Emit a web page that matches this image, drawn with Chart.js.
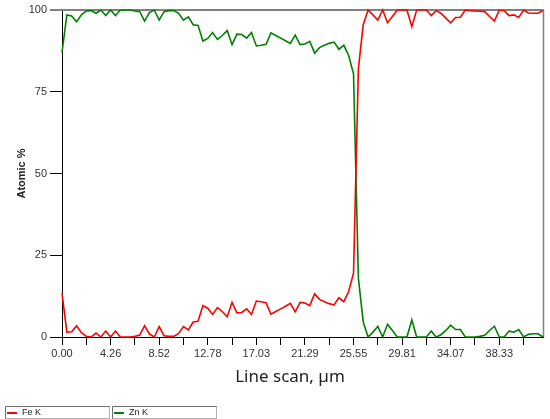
<!DOCTYPE html>
<html>
<head>
<meta charset="utf-8">
<script src="https://cdn.jsdelivr.net/npm/chart.js@4.4.0/dist/chart.umd.min.js"></script>
<style>
  html, body { margin: 0; padding: 0; background: #fff; }
</style>
</head>
<body>
<canvas id="myChart" width="550" height="419"></canvas>
<script>
// scan step (um) between two points of the line scan
const stepUm = 0.42587;

const xTickLabels = ['0.00', '4.26', '8.52', '12.78', '17.03', '21.29', '25.55', '29.81', '34.07', '38.33'];
const xTitle = 'Line scan, µm';

// Fe K, atomic %
const feK = [
  13.4, 1.5, 1.6, 3.4, 1.3, 0.2, 0, 1.2, 0, 1.8,
  0, 1.8, 0, 0, 0, 0.2, 0.6, 3.5, 0.9, 0,
  3.2, 0.4, 0.2, 0.2, 1.1, 3.2, 2.2, 4.6, 4.8, 9.6,
  8.8, 6.9, 9.0, 7.8, 6.2, 10.6, 7.4, 7.5, 8.6, 6.9,
  11.0, 10.8, 10.5, 7.0, 7.8, 8.6, 9.4, 10.3, 7.7, 10.6,
  10.4, 9.6, 13.2, 11.5, 10.8, 10.2, 9.8, 12.0, 10.8, 13.9,
  19.5, 82.0, 95.5, 100, 98.5, 96.9, 100, 96.1, 98.0, 100,
  100, 100, 94.9, 100, 100, 100, 98.3, 99.8, 99.0, 97.5,
  96.1, 97.7, 97.8, 100, 99.8, 99.7, 99.6, 99.5, 98.0, 96.6,
  100, 99.8, 98.3, 98.5, 97.7, 100, 99.1, 99.0, 99.0, 99.8
];

// Zn K, atomic %
const znK = [
  87.0, 98.5, 98.2, 96.4, 98.5, 99.7, 99.8, 99.0, 100, 98.3,
  100, 98.3, 100, 100, 100, 99.7, 99.5, 96.6, 99.2, 100,
  96.9, 99.5, 99.8, 99.8, 99.0, 96.9, 97.9, 95.5, 95.3, 90.5,
  91.3, 93.1, 91.0, 92.2, 93.7, 89.4, 92.6, 92.5, 91.4, 93.1,
  89.0, 89.2, 89.5, 93.0, 92.2, 91.4, 90.6, 89.8, 92.3, 89.4,
  89.6, 90.4, 86.8, 88.5, 89.2, 89.8, 90.2, 88.0, 89.2, 86.1,
  80.5, 18.0, 4.6, 0, 1.5, 3.2, 0, 3.9, 2.0, 0,
  0, 0, 5.2, 0, 0, 0, 1.8, 0, 0.7, 2.0,
  3.6, 2.3, 2.3, 0, 0, 0, 0.2, 0.5, 2.0, 3.3,
  0, 0, 1.8, 1.5, 2.3, 0, 0.8, 1.0, 1.0, 0
];

const toPoints = (arr) => arr.map((v, i) => ({ x: i * stepUm, y: v }));

// major ticks at the labels, minor ticks halfway
const xTickValues = [];
xTickLabels.forEach((l) => {
  const v = parseFloat(l);
  xTickValues.push(v, v + stepUm * 5);
});

// grey frame on top and right side
const frame = {
  id: 'frame',
  beforeDatasetsDraw(chart) {
    const { ctx, chartArea: a } = chart;
    ctx.save();
    ctx.strokeStyle = '#808080';
    ctx.lineWidth = 2;
    ctx.beginPath();
    ctx.moveTo(50, a.top);
    ctx.lineTo(a.right + 1, a.top);
    ctx.stroke();
    ctx.lineWidth = 1.5;
    ctx.beginPath();
    ctx.moveTo(a.right + 0.5, a.top);
    ctx.lineTo(a.right + 0.5, a.bottom);
    ctx.stroke();
    ctx.restore();
  }
};

// x title a bit left of the plot centre, like the original, plus boxed legend
const boxLegend = {
  id: 'boxLegend',
  afterDraw(chart) {
    const ctx = chart.ctx;
    ctx.save();
    ctx.fillStyle = '#222';
    ctx.font = '17px "Noto Sans"';
    ctx.textAlign = 'center';
    ctx.textBaseline = 'middle';
    ctx.fillText(xTitle, 290, 377);
    ctx.restore();

    chart.data.datasets.forEach((ds, i) => {
      const x = 5 + i * 107, y = 406, w = 104, h = 12;
      ctx.save();
      ctx.strokeStyle = '#b4b4b4';
      ctx.lineWidth = 1;
      ctx.strokeRect(x + 0.5, y + 0.5, w, h);
      ctx.strokeStyle = '#707070';
      ctx.beginPath();
      ctx.moveTo(x + 0.5, y + h + 0.5);
      ctx.lineTo(x + 0.5, y + 0.5);
      ctx.lineTo(x + w + 0.5, y + 0.5);
      ctx.stroke();
      ctx.strokeStyle = ds.borderColor;
      ctx.lineWidth = 2;
      ctx.beginPath();
      ctx.moveTo(x + 2, y + 7);
      ctx.lineTo(x + 12, y + 7);
      ctx.stroke();
      ctx.fillStyle = '#222';
      ctx.font = '9px "Liberation Sans"';
      ctx.textBaseline = 'middle';
      ctx.fillText(ds.label, x + 17, y + 7);
      ctx.restore();
    });
  }
};

const ctx = document.getElementById('myChart');

new Chart(ctx, {
  type: 'line',
  data: {
    datasets: [{
      label: 'Fe K',
      data: toPoints(feK),
      borderColor: '#ff0000',
      borderWidth: 1.6,
      pointRadius: 0,
      clip: 4
    }, {
      label: 'Zn K',
      data: toPoints(znK),
      borderColor: '#008000',
      borderWidth: 1.6,
      pointRadius: 0,
      clip: 4
    }]
  },
  options: {
    responsive: false,
    animation: false,
    events: [],
    layout: { padding: { top: 10, right: 7, left: 0, bottom: 0 } },
    plugins: {
      legend: { display: false },
      tooltip: { enabled: false }
    },
    scales: {
      x: {
        type: 'linear',
        min: 0,
        max: 99 * stepUm,
        afterFit: (s) => { s.height = 82; },
        afterBuildTicks: (s) => { s.ticks = xTickValues.map((v) => ({ value: v })); },
        ticks: {
          autoSkip: false,
          maxRotation: 0,
          padding: 2,
          color: '#333',
          font: { family: 'Liberation Sans', size: 11 },
          callback: (v, i) => (i % 2 === 0 ? xTickLabels[i / 2] : '')
        },
        grid: { drawOnChartArea: false, tickLength: 8, color: '#000' },
        border: { color: '#000', width: 1 }
      },
      y: {
        min: 0,
        max: 100,
        afterFit: (s) => { s.width = 62; },
        ticks: {
          stepSize: 25,
          padding: 3,
          color: '#333',
          font: { family: 'Liberation Sans', size: 11 }
        },
        grid: { drawOnChartArea: false, tickLength: 12, color: '#000' },
        border: { color: '#000', width: 1 },
        title: {
          display: true,
          text: 'Atomic %',
          color: '#222',
          font: { family: 'Liberation Sans', size: 11, weight: 'bold' },
          padding: { top: 15, bottom: 0 }
        }
      }
    }
  },
  plugins: [frame, boxLegend]
});
</script>
</body>
</html>
